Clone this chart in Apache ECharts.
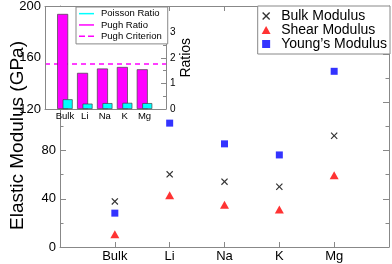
<!DOCTYPE html>
<html><head><meta charset="utf-8">
<script src="https://cdn.jsdelivr.net/npm/echarts@6/dist/echarts.min.js"></script>
<style>html,body{margin:0;padding:0;background:#fff}#c{width:392px;height:264px}</style>
</head><body><div id="c"></div>
<script>
// ---- data ----
const categories = ['Bulk', 'Li', 'Na', 'K', 'Mg'];
const bulkModulus = [37.8, 60.3, 54.2, 50.0, 92.3];
const shearModulus = [10.6, 43.0, 35.0, 31.2, 59.6];
const youngsModulus = [28.1, 102.8, 85.6, 76.4, 145.8];
const pughRatio = [3.71, 1.41, 1.58, 1.64, 1.55];
const poissonRatio = [0.38, 0.21, 0.23, 0.24, 0.23];
const pughCriterion = 1.75;
const modulusTickLabels = [0, 40, 80];
const insetModulusTickLabels = [120, 160, 200];
const ratioTickLabels = [0, 1, 2, 3];

// ---- styling ----
const FONT = 'Liberation Sans, Arial, Helvetica, sans-serif';
const AX = '#888';
const X_PATH = 'path://M0,1.2L1.2,0L5,3.8L8.8,0L10,1.2L6.2,5L10,8.8L8.8,10L5,6.2L1.2,10L0,8.8L3.8,5Z';
const TRI_PATH = 'path://M5,0L10,9L0,9Z';
const SQ_PATH = 'path://M0,0L10,0L10,10L0,10Z';

const pairs = arr => arr.map((v, i) => [i, v]);
const catFmt = v => (Number.isInteger(v) && categories[v] !== undefined) ? categories[v] : '';
const line = {onZero: false, lineStyle: {color: AX}};

const chart = echarts.init(document.getElementById('c'), null, {renderer: 'canvas'});
chart.setOption({
  animation: false,
  textStyle: {fontFamily: FONT},
  grid: [
    {left: 45, top: 6, right: 3, bottom: 17},
    {left: 45, top: 6, width: 121, height: 103}
  ],
  graphic: [{
    type: 'rect', z: 3,
    shape: {x: 45, y: 6, width: 121, height: 103},
    style: {fill: '#fff'}
  }],
  xAxis: [
    {gridIndex: 0, type: 'value', min: -1, max: 5, interval: 1, position: 'bottom',
     axisLine: line, splitLine: {show: false},
     axisTick: {inside: true, length: 5, lineStyle: {color: AX}},
     axisLabel: {formatter: catFmt, fontSize: 13, color: '#000', margin: 3, fontFamily: FONT}},
    {gridIndex: 0, type: 'value', min: -1, max: 5, interval: 1, position: 'top',
     axisLine: line, splitLine: {show: false},
     axisTick: {inside: true, length: 5, lineStyle: {color: AX}},
     axisLabel: {show: false}},
    {gridIndex: 1, type: 'value', min: -1, max: 5.08, interval: 1, position: 'bottom', z: 5,
     axisLine: line, splitLine: {show: false},
     axisTick: {show: false},
     axisLabel: {formatter: catFmt, fontSize: 9.5, color: '#000', margin: 2, fontFamily: FONT}},
    {gridIndex: 1, type: 'value', min: -1, max: 5.08, interval: 1, position: 'top', z: 5,
     axisLine: line, splitLine: {show: false},
     axisTick: {show: false}, axisLabel: {show: false}}
  ],
  yAxis: [
    {gridIndex: 0, type: 'value', min: 0, max: 200, interval: 40, position: 'left',
     name: 'Elastic Modulus (GPa)', nameLocation: 'middle', nameGap: 33,
     nameTextStyle: {fontSize: 19, color: '#000', fontFamily: FONT, padding: [0, 18, 0, 0]},
     axisLine: Object.assign({show: true}, line), splitLine: {show: false},
     axisTick: {inside: true, length: 6, lineStyle: {color: AX}},
     minorTick: {show: true, splitNumber: 2, length: 3.5, lineStyle: {color: AX}},
     axisLabel: {formatter: v => modulusTickLabels.includes(v) ? String(v) : '', fontSize: 13, color: '#000', margin: 4, fontFamily: FONT}},
    {gridIndex: 0, type: 'value', min: 0, max: 200, interval: 40, position: 'right',
     axisLine: Object.assign({show: true}, line), splitLine: {show: false},
     axisTick: {inside: true, length: 6, lineStyle: {color: AX}},
     minorTick: {show: true, splitNumber: 2, length: 3.5, lineStyle: {color: AX}},
     axisLabel: {show: false}},
    {gridIndex: 1, type: 'value', min: 120, max: 200, interval: 40, position: 'left', z: 5,
     axisLine: Object.assign({show: true}, line), splitLine: {show: false},
     axisTick: {show: false},
     axisLabel: {formatter: v => insetModulusTickLabels.includes(v) ? String(v) : '', fontSize: 13, color: '#000', margin: 4, fontFamily: FONT}},
    {gridIndex: 1, type: 'value', min: 0, max: 4, interval: 1, position: 'right', z: 5,
     name: 'Ratios', nameLocation: 'middle', nameGap: 10, nameRotate: 90,
     nameTextStyle: {fontSize: 14, color: '#000', fontFamily: FONT},
     axisLine: Object.assign({show: true}, line), splitLine: {show: false},
     axisTick: {inside: true, length: 5, lineStyle: {color: AX}},
     minorTick: {show: true, splitNumber: 2, length: 3, lineStyle: {color: AX}},
     axisLabel: {formatter: v => ratioTickLabels.includes(v) ? String(v) : '', fontSize: 10, color: '#000', margin: 4, fontFamily: FONT}}
  ],
  legend: [
    {orient: 'vertical', right: 2, top: 6, z: 6, selectedMode: false,
     data: ['Bulk Modulus', 'Shear Modulus', 'Young’s Modulus'],
     itemWidth: 20, itemHeight: 8, itemGap: 0, padding: [3, 3, 3, 4],
     backgroundColor: '#fff', borderColor: AX, borderWidth: 1,
     textStyle: {fontSize: 14, lineHeight: 14, color: '#000', fontFamily: FONT}},
    {orient: 'vertical', left: 76, top: 7, z: 6, selectedMode: false,
     data: [
       {name: 'Poisson Ratio', icon: 'rect'},
       {name: 'Pugh Ratio', icon: 'rect'},
       {name: 'Pugh Criterion', icon: 'path://M0,0L6,0L6,1L0,1ZM9,0L15,0L15,1L9,1Z'}
     ],
     symbolKeepAspect: false,
     itemWidth: 15, itemHeight: 1.5, itemGap: 0, padding: [1, 6, 2, 3],
     itemStyle: {borderWidth: 0},
     backgroundColor: '#fff', borderColor: AX, borderWidth: 1,
     textStyle: {fontSize: 9.5, lineHeight: 11.3, color: '#000', fontFamily: FONT, padding: [0, 0, 0, 2]}}
  ],
  series: [
    {name: 'Bulk Modulus', type: 'scatter', xAxisIndex: 0, yAxisIndex: 0,
     symbol: X_PATH, symbolSize: 7, itemStyle: {color: '#000'}, data: pairs(bulkModulus)},
    {name: 'Shear Modulus', type: 'scatter', xAxisIndex: 0, yAxisIndex: 0,
     symbol: TRI_PATH, symbolSize: [9, 8], itemStyle: {color: '#ff0000'}, data: pairs(shearModulus)},
    {name: 'Young’s Modulus', type: 'scatter', xAxisIndex: 0, yAxisIndex: 0,
     symbol: SQ_PATH, symbolSize: 7, itemStyle: {color: '#0000ff'}, data: pairs(youngsModulus)},
    {name: 'Pugh Ratio', type: 'bar', xAxisIndex: 2, yAxisIndex: 3, z: 5,
     barWidth: 11, barGap: '-50%',
     itemStyle: {color: '#ff00ff', borderColor: '#444', borderWidth: 0.7},
     data: pairs(pughRatio)},
    {name: 'Poisson Ratio', type: 'bar', xAxisIndex: 2, yAxisIndex: 3, z: 5,
     barWidth: 10, barGap: '-50%',
     itemStyle: {color: '#00ffff', borderColor: '#444', borderWidth: 0.7},
     data: pairs(poissonRatio)},
    {name: 'Pugh Criterion', type: 'line', xAxisIndex: 2, yAxisIndex: 3, z: 5,
     color: '#ff00ff', data: [], showSymbol: false,
     markLine: {silent: true, symbol: 'none', label: {show: false},
       lineStyle: {color: '#ff00ff', type: [5, 4], width: 1.5},
       data: [{yAxis: pughCriterion}]}}
  ]
});
</script>
</body></html>
